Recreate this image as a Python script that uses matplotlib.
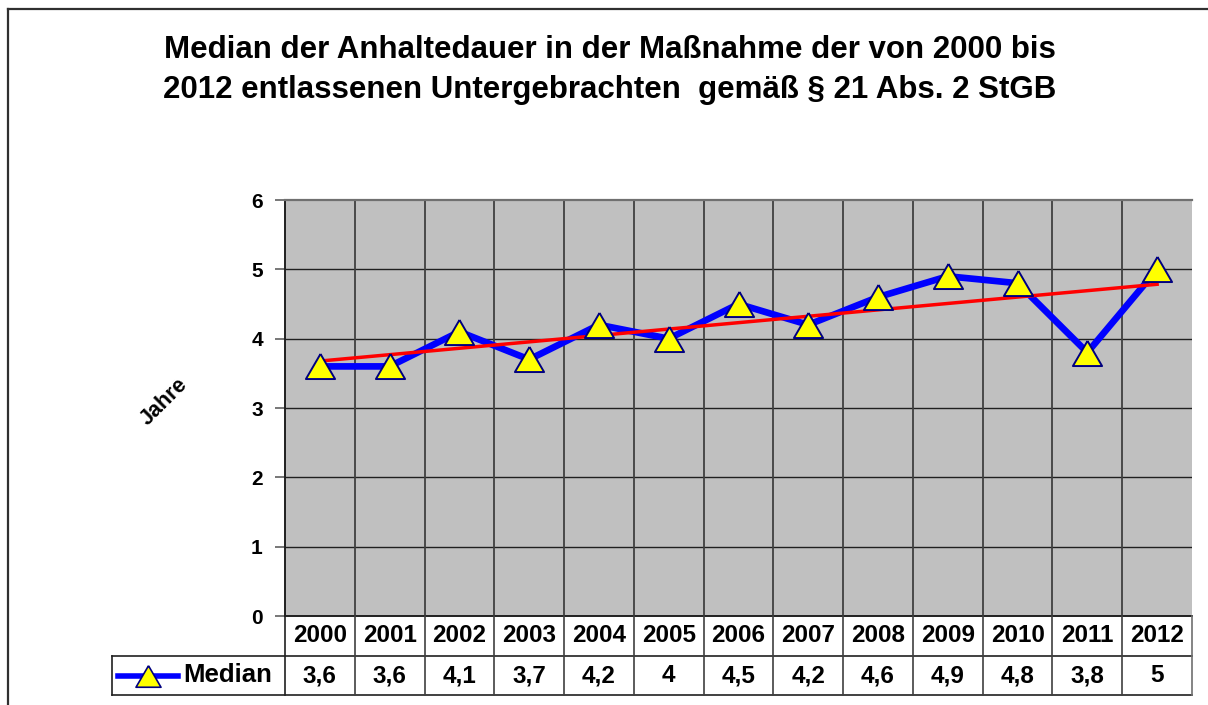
import numpy as np
import matplotlib
matplotlib.use("Agg")
import matplotlib.pyplot as plt
from matplotlib.lines import Line2D

plt.rcParams['font.family'] = ['Liberation Sans', 'DejaVu Sans']
plt.rcParams['font.weight'] = 'bold'

# data
years = ["2000", "2001", "2002", "2003", "2004", "2005", "2006",
         "2007", "2008", "2009", "2010", "2011", "2012"]
median = [3.6, 3.6, 4.1, 3.7, 4.2, 4.0, 4.5, 4.2, 4.6, 4.9, 4.8, 3.8, 5.0]
value_labels = ["3,6", "3,6", "4,1", "3,7", "4,2", "4", "4,5",
                "4,2", "4,6", "4,9", "4,8", "3,8", "5"]
series_name = "Median"
y_label = "Jahre"
title = ("Median der Anhaltedauer in der Maßnahme der von 2000 bis\n"
         "2012 entlassenen Untergebrachten  gemäß § 21 Abs. 2 StGB")

W, H = 1208, 705
fig = plt.figure(figsize=(W / 100, H / 100), dpi=100)
fig.patch.set_facecolor("white")


def fx(px):
    return px / W


def fy(py):
    return 1 - py / H


# outer chart border (top and left edges visible)
fig.add_artist(Line2D([fx(8), fx(W + 5)], [fy(9), fy(9)], color="#303030",
                      lw=1.6, transform=fig.transFigure))
fig.add_artist(Line2D([fx(8), fx(8)], [fy(9), fy(H + 5)], color="#303030",
                      lw=1.6, transform=fig.transFigure))

# plot area
L, R, T, B = 285, 1192, 200, 616
ax = fig.add_axes([fx(L), fy(B), fx(R - L), (B - T) / H])
ax.set_facecolor("#C0C0C0")
n = len(years)
x = np.arange(n)
ax.set_xlim(-0.5, n - 0.5)
ax.set_ylim(0, 6)

for k in range(1, 6):
    ax.axhline(k, color="#202020", lw=1.0, zorder=1)
for k in range(1, n):
    ax.axvline(k - 0.5, color="#404040", lw=1.3, zorder=1)

ax.plot(x, median, color="#0000FF", lw=4.8, zorder=3, solid_joinstyle="round")

tri = [(0, 0.86), (-1, -0.86), (1, -0.86), (0, 0.86)]
ax.plot(x, median, linestyle="none", marker=tri, markersize=21,
        markerfacecolor="#FFFF00", markeredgecolor="#000080",
        markeredgewidth=1.4, zorder=5)

slope, intercept = np.polyfit(x, median, 1)
ax.plot(x, slope * x + intercept, color="#FF0000", lw=2.5, zorder=4)

ax.set_xticks([])
ax.set_yticks(range(0, 7))
ax.set_yticklabels([str(v) for v in range(0, 7)], fontsize=15,
                   fontweight="bold")
ax.tick_params(axis="y", length=7, width=1.2, color="#606060", pad=9)
for side in ("right", "bottom"):
    ax.spines[side].set_visible(False)
ax.spines["left"].set_color("#202020")
ax.spines["left"].set_linewidth(1.4)
ax.spines["top"].set_color("#707070")
ax.spines["top"].set_linewidth(1.6)

# data table below the plot
TL, TB = 112, 695
row_mid = 656
unit = (R - L) / n
x_left = -0.5 - (L - TL) / unit
tab = fig.add_axes([fx(TL), fy(TB), fx(R - TL), (TB - B) / H])
tab.set_xlim(x_left, n - 0.5)
tab.set_ylim(0, 2)
tab.axis("off")
yr_row = (TB - row_mid) / (TB - B) * 2  # boundary between the two rows

lc = "#202020"
tab.plot([-0.5, n - 0.5], [2, 2], color=lc, lw=1.4, clip_on=False)
tab.plot([x_left, n - 0.5], [yr_row, yr_row], color=lc, lw=1.2, clip_on=False)
tab.plot([x_left, n - 0.5], [0, 0], color=lc, lw=1.2, clip_on=False)
tab.plot([x_left, x_left], [0, yr_row], color=lc, lw=1.2, clip_on=False)
for k in range(n + 1):
    col = "#707070" if k == n else ("#404040" if 0 < k < n else lc)
    tab.plot([k - 0.5, k - 0.5], [0, 2], color=col, lw=1.2, clip_on=False)

for i in range(n):
    tab.text(x[i], (yr_row + 2) / 2, years[i], ha="center", va="center",
             fontsize=17.5, fontweight="bold")
    tab.text(x[i], yr_row / 2, value_labels[i], ha="center", va="center",
             fontsize=17.5, fontweight="bold")

# legend key inside the table
x0 = x_left + 6 / unit
x1 = x_left + 66 / unit
tab.plot([x0, x1], [yr_row / 2, yr_row / 2], color="#0000FF", lw=4.0)
tab.plot([(x0 + x1) / 2], [yr_row / 2], linestyle="none", marker=tri,
         markersize=18, markerfacecolor="#FFFF00", markeredgecolor="#000080",
         markeredgewidth=1.2)
tab.text(x_left + 71 / unit, yr_row / 2, series_name, ha="left", va="center",
         fontsize=18.5, fontweight="bold")

# axis title, rotated
fig.text(fx(164), fy(402), y_label, rotation=45, ha="center", va="center",
         fontsize=15.5, fontweight="bold")

fig.text(fx(610), fy(70), title, ha="center", va="center", fontsize=22.5,
         fontweight="bold", linespacing=1.4)

fig.savefig("out.png", dpi=100)
